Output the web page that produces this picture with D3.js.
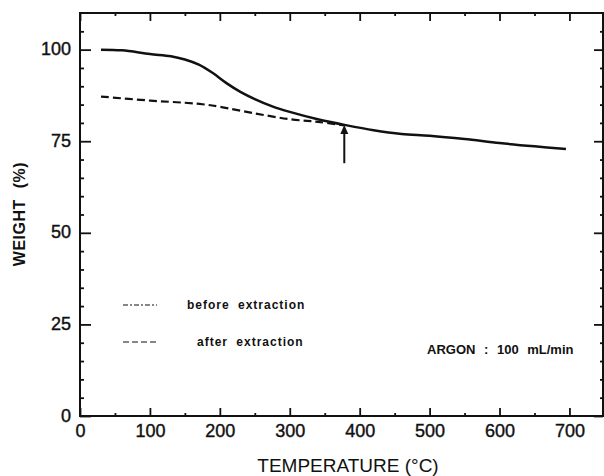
<!DOCTYPE html>
<html>
<head>
<meta charset="utf-8">
<script src="https://cdn.jsdelivr.net/npm/d3@7"></script>
<style>
body { margin: 0; background: #fff; }
text { font-family: "Liberation Sans", Arial, sans-serif; fill: #111; }
</style>
</head>
<body>
<div id="chart"></div>
<script>
// before extraction (solid curve)
var tempBefore   = [30, 60, 100, 130, 150, 170, 190, 210, 230, 250, 275, 300, 340, 380, 420, 460, 500, 550, 600, 650, 695];
var weightBefore = [100, 99.8, 98.8, 98.2, 97.3, 95.9, 93.6, 90.8, 88.4, 86.5, 84.5, 83.0, 81.0, 79.4, 78.0, 77.0, 76.5, 75.6, 74.5, 73.6, 72.9];

// after extraction (dashed curve)
var tempAfter   = [30, 100, 150, 175, 200, 250, 300, 340, 378];
var weightAfter = [87.2, 86.1, 85.5, 85.1, 84.4, 82.6, 81.0, 80.3, 79.3];

var xTicks = [0, 100, 200, 300, 400, 500, 600, 700];
var yTicks = [0, 25, 50, 75, 100];
var xMinor = [50, 150, 250, 350, 450, 550, 650];
var yMinor = [5, 10, 15, 20, 30, 35, 40, 45, 55, 60, 65, 70, 80, 85, 90, 95, 105];

var arrowTemp = 378;
var arrowFrom = 69;
var arrowTo = 79.4;

var chart_width = 604, chart_height = 476;
var plot_left = 80, plot_right = 603, plot_top = 13, plot_bottom = 416;

var svg = d3.select("#chart")
    .append("svg")
    .attr("width", chart_width)
    .attr("height", chart_height);

var x = d3.scaleLinear().domain([0, 748]).range([plot_left, plot_right]);
var y = d3.scaleLinear().domain([0, 110]).range([plot_bottom, plot_top]);

// axes, ticks pointing into the plot
var xBottom = d3.axisBottom(x).tickValues(xTicks).tickSize(-8).tickPadding(8).tickFormat(d3.format("d"));
var yLeft = d3.axisLeft(y).tickValues(yTicks).tickSize(-11).tickPadding(9).tickFormat(d3.format("d"));

svg.append("g")
    .attr("class", "x-axis")
    .attr("transform", "translate(0," + plot_bottom + ")")
    .call(xBottom);

svg.append("g")
    .attr("class", "y-axis")
    .attr("transform", "translate(" + plot_left + ",0)")
    .call(yLeft);

svg.append("g")
    .attr("transform", "translate(0," + plot_top + ")")
    .call(d3.axisTop(x).tickValues(xTicks).tickSize(-8).tickFormat(""));

svg.append("g")
    .attr("transform", "translate(" + plot_right + ",0)")
    .call(d3.axisRight(y).tickValues(yTicks).tickSize(-9).tickFormat(""));

// minor ticks
svg.append("g").attr("transform", "translate(0," + plot_bottom + ")")
    .call(d3.axisBottom(x).tickValues(xMinor).tickSize(-3).tickFormat(""));
svg.append("g").attr("transform", "translate(0," + plot_top + ")")
    .call(d3.axisTop(x).tickValues(xMinor).tickSize(-3).tickFormat(""));
svg.append("g").attr("transform", "translate(" + plot_left + ",0)")
    .call(d3.axisLeft(y).tickValues(yMinor).tickSize(-4).tickFormat(""));
svg.append("g").attr("transform", "translate(" + plot_right + ",0)")
    .call(d3.axisRight(y).tickValues(yMinor).tickSize(-3).tickFormat(""));

svg.selectAll(".domain").remove();
svg.selectAll(".tick line").attr("stroke", "#111").attr("stroke-width", 1.8);
svg.selectAll(".x-axis text, .y-axis text")
    .attr("font-size", 18)
    .attr("fill", "#111")
    .attr("stroke", "#111")
    .attr("stroke-width", 0.4);
svg.select(".y-axis").selectAll("text").attr("dy", "0.28em");

// frame
svg.append("rect")
    .attr("x", plot_left).attr("y", plot_top)
    .attr("width", plot_right - plot_left).attr("height", plot_bottom - plot_top)
    .attr("fill", "none").attr("stroke", "#111").attr("stroke-width", 2);

var line = d3.line()
    .x(function(d) { return x(d[0]); })
    .y(function(d) { return y(d[1]); })
    .curve(d3.curveCatmullRom.alpha(0.5));

svg.append("path")
    .datum(d3.zip(tempBefore, weightBefore))
    .attr("d", line)
    .attr("fill", "none")
    .attr("stroke", "#111")
    .attr("stroke-width", 2.5);

svg.append("path")
    .datum(d3.zip(tempAfter, weightAfter))
    .attr("d", line)
    .attr("fill", "none")
    .attr("stroke", "#111")
    .attr("stroke-width", 2.2)
    .attr("stroke-dasharray", "8,4");

// arrow
var ax = x(arrowTemp), ay0 = y(arrowFrom), ay1 = y(arrowTo);
svg.append("line")
    .attr("x1", ax).attr("x2", ax)
    .attr("y1", ay0).attr("y2", ay1 + 7)
    .attr("stroke", "#111").attr("stroke-width", 2);
svg.append("path")
    .attr("d", "M" + ax + "," + ay1 + " L" + (ax - 4) + "," + (ay1 + 9) + " L" + (ax + 4) + "," + (ay1 + 9) + " Z")
    .attr("fill", "#111");

// legend
svg.append("line")
    .attr("x1", 123).attr("x2", 157).attr("y1", 305).attr("y2", 305)
    .attr("stroke", "#111").attr("stroke-width", 1.2).attr("stroke-dasharray", "5,2,2,2");
svg.append("line")
    .attr("x1", 123).attr("x2", 157).attr("y1", 342).attr("y2", 342)
    .attr("stroke", "#111").attr("stroke-width", 1.2).attr("stroke-dasharray", "6,3");

svg.append("text")
    .attr("x", 187).attr("y", 309)
    .attr("font-size", 12).attr("font-weight", "bold")
    .attr("letter-spacing", 1).attr("word-spacing", 4)
    .text("before extraction");
svg.append("text")
    .attr("x", 197).attr("y", 346)
    .attr("font-size", 12).attr("font-weight", "bold")
    .attr("letter-spacing", 1).attr("word-spacing", 4)
    .text("after extraction");

svg.append("text")
    .attr("x", 427).attr("y", 354)
    .attr("font-size", 13).attr("font-weight", "bold")
    .attr("word-spacing", 5)
    .text("ARGON : 100 mL/min");

// axis titles
svg.append("text")
    .attr("x", 348).attr("y", 472)
    .attr("text-anchor", "middle")
    .attr("font-size", 19)
    .text("TEMPERATURE (°C)");

svg.append("text")
    .attr("transform", "translate(25,214) rotate(-90)")
    .attr("text-anchor", "middle")
    .attr("font-size", 16).attr("font-weight", "bold")
    .attr("letter-spacing", 0.5).attr("word-spacing", 6)
    .text("WEIGHT (%)");
</script>
</body>
</html>
